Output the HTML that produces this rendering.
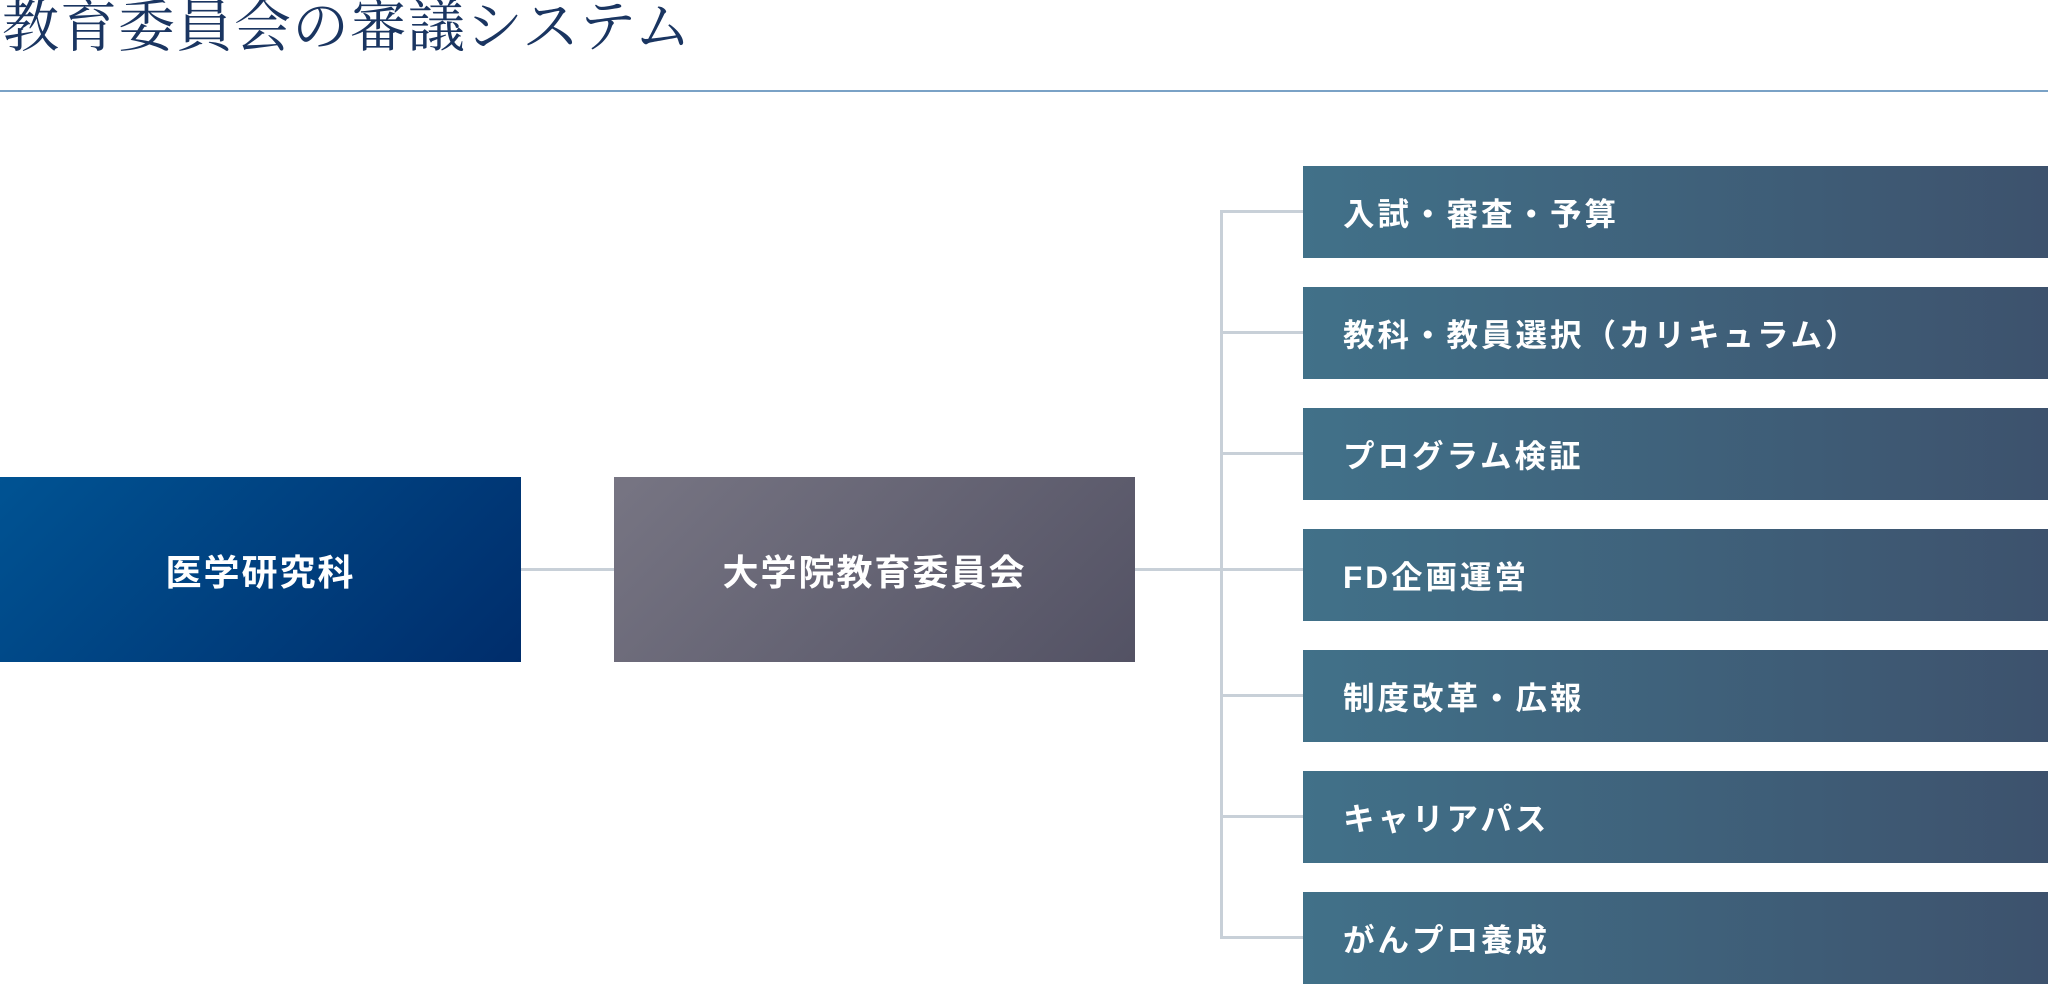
<!DOCTYPE html>
<html><head><meta charset="utf-8"><style>
html,body{margin:0;padding:0;background:#fff;}
body{width:2048px;height:985px;position:relative;overflow:hidden;font-family:"Liberation Sans","Noto Sans CJK JP",sans-serif;}
.title{position:absolute;left:2px;top:-8px;font-family:"Liberation Serif","Noto Serif CJK SC",serif;font-size:57px;color:#1a3561;letter-spacing:1px;line-height:72px;white-space:nowrap;}
.rule{position:absolute;left:0;top:90px;width:2048px;height:2px;background:#7aa2c6;}
.box{position:absolute;color:#fff;font-weight:bold;display:flex;align-items:center;white-space:nowrap;}
.l{left:0;top:477px;width:521px;height:185px;background:linear-gradient(135deg,#005393 0%,#002d6b 100%);justify-content:center;font-size:36px;letter-spacing:2px;}
.m{left:614px;top:477px;width:521px;height:185px;background:linear-gradient(135deg,#777583 0%,#535264 100%);justify-content:center;font-size:36px;letter-spacing:2px;}
.r{left:1303px;width:745px;height:92px;background:linear-gradient(90deg,#417189 0%,#3d526d 100%);padding-left:40px;box-sizing:border-box;font-size:31.5px;letter-spacing:3px;}
.ln{position:absolute;background:#c8d0d8;}
</style></head><body>
<div class="title">教育委員会の審議システム</div>
<div class="rule"></div>
<div class="ln" style="left:521px;top:568px;width:93px;height:3px"></div>
<div class="ln" style="left:1135px;top:568px;width:168px;height:3px"></div>
<div class="ln" style="left:1220px;top:210px;width:3px;height:729px"></div>
<div class="ln" style="left:1220px;top:210px;width:83px;height:3px"></div>
<div class="ln" style="left:1220px;top:331px;width:83px;height:3px"></div>
<div class="ln" style="left:1220px;top:452px;width:83px;height:3px"></div>
<div class="ln" style="left:1220px;top:694px;width:83px;height:3px"></div>
<div class="ln" style="left:1220px;top:815px;width:83px;height:3px"></div>
<div class="ln" style="left:1220px;top:936px;width:83px;height:3px"></div>
<div class="box l">医学研究科</div>
<div class="box m">大学院教育委員会</div>
<div class="box r" style="top:166px">入試・審査・予算</div>
<div class="box r" style="top:287px">教科・教員選択（カリキュラム）</div>
<div class="box r" style="top:408px">プログラム検証</div>
<div class="box r" style="top:529px">FD企画運営</div>
<div class="box r" style="top:650px">制度改革・広報</div>
<div class="box r" style="top:771px">キャリアパス</div>
<div class="box r" style="top:892px">がんプロ養成</div>
</body></html>
